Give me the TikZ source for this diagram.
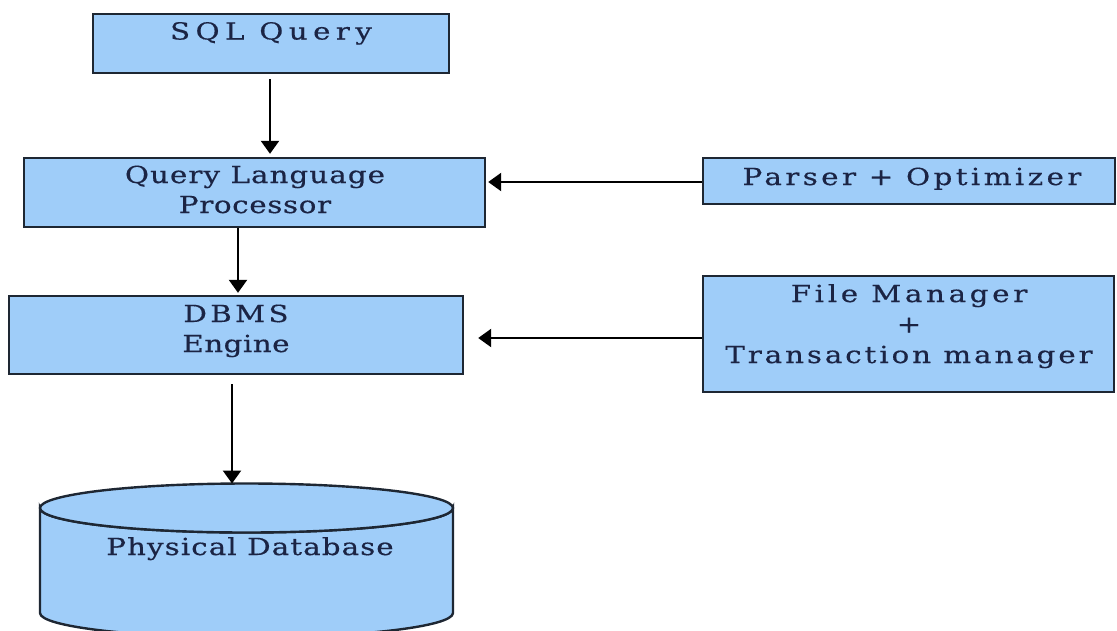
\documentclass[tikz,border=0pt]{standalone}
\usepackage{fontspec}
\setmainfont{DejaVu Serif}[FakeStretch=1.25,FakeBold=0.4]
\newcommand\lsp[1]{\addfontfeature{LetterSpace=#1}}
\usetikzlibrary{arrows.meta,calc}
\definecolor{boxfill}{HTML}{9FCDF9}
\definecolor{boxline}{HTML}{1E2733}
\definecolor{txtcol}{HTML}{1B2444}
\begin{document}
\begin{tikzpicture}[x=1pt,y=-1pt,
  box/.style={draw=boxline,fill=boxfill,line width=2.4pt,rectangle,inner sep=0pt},
  lbl/.style={text=txtcol,font=\fontsize{23.5}{30}\selectfont,align=center,inner sep=0pt,anchor=base},
  arr/.style={draw=black,line width=2.4pt,-{Triangle[length=13pt,width=18pt]}}]
\clip (0,0) rectangle (1117,630);
\useasboundingbox (0,0) rectangle (1117,630);
\fill[white] (0,0) rectangle (1117,630);
% boxes
\node[box,minimum width=356pt,minimum height=59pt] (sql) at (271,43.5) {};
\node[box,minimum width=461pt,minimum height=69pt] (qlp) at (254.5,192.5) {};
\node[box,minimum width=454pt,minimum height=78pt] (dbms) at (236,335) {};
\node[box,minimum width=412pt,minimum height=46pt] (parser) at (909,181) {};
\node[box,minimum width=411pt,minimum height=116pt] (fm) at (908.5,334) {};
% cylinder
\filldraw[draw=boxline,fill=boxfill,line width=2.4pt]
  (40,508) -- (40,613) arc[start angle=180,end angle=0,x radius=206.5,y radius=24.5]
  -- (453,508) arc[start angle=0,end angle=180,x radius=206.5,y radius=24.5] -- cycle;
\filldraw[draw=boxline,fill=boxfill,line width=2.4pt] (246.5,508) ellipse[x radius=206.5,y radius=24.5];
\coordinate (dbtop) at (232,483.5);
% texts
\node[lbl] (sqlT) at (271,39.5) {\lsp{23}SQL Query};
\node[lbl] (qlpT) at (255,213) {{\lsp{4.4}Query Language}\\{\lsp{2.7}Processor}};
\node[lbl] (dbmsT) at (236,352) {{\lsp{14}DBMS}\\{\lsp{2}Engine}};
\node[lbl] (parserT) at (912,185) {\lsp{14.4}Parser + Optimizer};
\node[lbl,font=\fontsize{23.5}{30.5}\selectfont] (fmT) at (909,363) {{\lsp{15.5}File Manager}\\+\\{\lsp{12.3}Transaction manager}};
\node[lbl] (dbT) at (250,555) {\lsp{4.5}Physical Database};
% arrows
\draw[arr,shorten >=3pt] ([xshift=-1pt,yshift=-5pt]sql.south) -- ([xshift=-1pt]sql.south |- qlp.north);
\draw[arr,shorten >=2pt] ([xshift=-16.5pt]qlp.south) -- ([xshift=-16.5pt]qlp.south |- dbms.north);
\draw[arr,shorten >=2pt] ([yshift=-1pt]parser.west) -- ([yshift=-1pt]parser.west -| qlp.east);
\draw[arr,shorten >=14pt] ([yshift=-4pt]fm.west) -- ([yshift=-4pt]fm.west -| dbms.east);
\draw[arr] ([xshift=-4pt,yshift=-9pt]dbms.south) -- (dbtop);
\end{tikzpicture}
\end{document}
